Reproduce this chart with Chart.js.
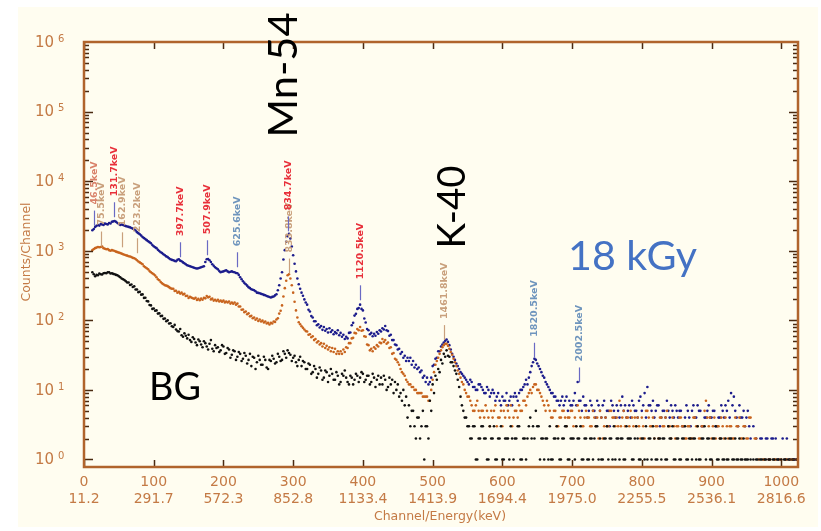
<!DOCTYPE html>
<html>
<head>
<meta charset="utf-8">
<script src="https://cdn.jsdelivr.net/npm/chart.js@4.4.0/dist/chart.umd.min.js"></script>
<style>
  html, body { margin: 0; padding: 0; background: #fff; }
  #wrap { position: relative; width: 821px; height: 531px; }
</style>
</head>
<body>
<div id="wrap"><canvas id="spectrum" width="821" height="531"></canvas></div>
<script>
// one value every 2 channels, channel 0 .. 1022 (32 values per row = 64 channels)
var STEP = 2;

var channelTicks = [0, 100, 200, 300, 400, 500, 600, 700, 800, 900, 1000];
var energyTicks = ['11.2', '291.7', '572.3', '852.8', '1133.4', '1413.9', '1694.4', '1975.0', '2255.5', '2536.1', '2816.6'];
var decades = [1, 10, 100, 1000, 10000, 100000, 1000000];

// 18 kGy sample (blue)
var dose18 = [
  null,null,null,null,null,null,1970,2050,2200,2280,2340,2300,2420,2380,2340,2450,2420,2390,2500,2460,2600,2640,2680,2600,2500,2420,2340,2380,2340,2300,2260,2230,
  2200,2170,2120,2080,2040,1950,1850,1790,1730,1650,1570,1520,1470,1420,1370,1330,1280,1210,1160,1120,1090,1030,990,950,925,890,860,830,810,780,755,740,
  730,715,705,740,755,720,705,680,660,640,618,610,600,590,580,570,560,555,560,570,580,590,600,690,755,760,730,690,640,610,580,560,
  540,510,490,500,505,515,524,505,490,500,505,495,490,480,475,450,415,390,365,345,330,315,300,290,280,275,270,262,250,248,245,240,
  237,232,229,224,220,216,213,217,220,228,237,270,319,400,490,750,1020,1350,1620,1750,1500,1150,860,650,505,400,330,285,250,225,200,180,
  168,142,134,115,110,97,97,85,88,79,83,73,80,71,75,67,77,68,72,63,68,65,72,61,66,58,62,54,58,55,66,67,
  85,92,117,124,146,150,168,146,139,106,93,75,72,63,66,59,64,60,68,64,72,69,77,74,83,72,70,60,62,52,52,45,
  44,38,39,33,35,29,31,26,29,26,29,23,26,21,23,20,21,18,19,15,16,13,15,12,13,15,22,23,28,29,36,36,
  42,45,48,51,53,49,44,38,33,30,27,24,22,20,18,17,16,15,14,13,12,14,13,11,11,10,10,12,12,11,10,9,
  9,11,10,8,9,10,9,7,8,9,7,6,8,7,7,9,6,7,8,6,8,9,8,7,9,10,10,11,12,14,12,15,
  18,22,25,28,27,24,22,20,18,16,15,13,12,11,10,9,9,8,8,7,7,6,7,8,6,7,8,5,7,6,6,7,
  9,6,13,7,7,5,8,6,6,4,5,7,6,5,5,4,7,6,5,4,6,7,4,5,5,3,7,6,5,4,6,5,
  4,6,8,5,6,4,5,6,4,7,6,5,5,4,7,8,5,6,9,4,11,6,6,5,7,4,5,6,6,3,4,5,
  5,4,7,5,4,6,5,4,6,5,4,5,5,3,3,4,6,5,4,3,5,6,4,4,6,5,5,3,3,4,4,5,
  6,4,4,5,5,3,3,4,4,6,5,4,6,5,7,4,9,6,8,5,4,3,6,4,4,5,3,4,5,3,2,null,
  3,null,2,null,null,2,2,null,null,2,2,1,null,2,2,null,2,null,1,null,null,2,null,1,2,null,1,null,null,1,1,null
];

// second irradiated sample (orange)
var doseLow = [
  null,null,null,null,null,null,1020,1060,1090,1110,1130,1120,1130,1150,1090,1070,1050,1060,1020,1000,1020,1010,990,970,955,940,925,910,890,875,860,850,
  835,825,810,790,780,760,730,700,680,660,640,600,580,560,540,510,490,475,460,440,415,390,376,355,340,330,319,315,310,300,290,285,
  285,265,266,250,256,242,250,236,240,224,226,210,218,212,208,204,210,196,204,194,205,198,210,207,224,214,218,200,205,192,198,190,
  198,186,192,185,192,181,186,180,186,174,180,173,180,168,174,158,158,142,143,131,134,122,126,114,116,107,110,102,106,98,103,96,
  99,93,96,90,92,87,92,90,96,95,103,107,125,137,164,220,290,370,444,460,400,320,250,185,139,110,94,88,82,78,74,70,
  69,62,63,57,59,52,54,48,50,45,47,42,46,40,43,38,41,36,40,35,39,33,36,33,36,33,38,35,41,40,47,47,
  55,56,66,65,75,72,80,71,72,59,58,45,44,37,39,36,41,39,44,42,48,47,54,49,52,46,48,40,41,33,34,28,
  27,25,23,20,18,17,16,14,13,12,12,11,11,10,10,9,9,9,9,8,8,8,8,7,7,10,14,18,23,26,29,33,
  37,41,44,46,46,43,39,35,32,28,25,22,19,17,15,13,12,10,9,8,8,7,6,5,5,6,7,5,4,5,5,4,
  6,5,4,3,5,4,5,6,3,4,4,5,3,5,4,6,5,4,6,3,4,5,5,4,6,5,5,7,7,6,8,9,
  10,9,11,12,12,10,10,9,8,7,6,5,7,6,5,4,4,5,5,3,3,4,4,5,5,4,3,4,4,5,5,3,
  4,3,6,5,4,3,3,4,5,4,4,3,3,5,4,3,4,2,5,4,2,3,4,3,3,5,5,4,4,3,4,3,
  7,3,4,5,3,4,4,3,5,4,3,4,3,4,3,2,4,3,2,5,5,4,3,3,4,2,3,3,2,4,4,3,
  3,4,5,3,3,2,4,3,2,3,3,4,4,3,3,2,2,3,3,2,2,4,4,3,3,2,2,3,3,5,7,4,
  3,4,2,3,4,2,3,3,2,4,3,2,4,3,2,3,3,2,2,4,3,3,4,2,2,3,3,2,2,4,4,null,
  null,2,2,null,1,null,null,1,1,null,null,1,1,null,null,1,1,null,null,1,1,null,null,1,1,null,null,1,1,null,null,1
];

// background (black)
var bg = [
  null,null,null,null,null,null,490,460,430,450,444,470,460,455,475,480,475,490,490,470,475,465,460,450,444,430,415,400,390,380,365,350,
  350,322,328,302,308,278,278,254,257,234,236,210,211,190,187,166,164,146,148,137,139,125,126,115,116,105,106,97,100,90,91,82,
  80,86,74,70,69,75,61,58,65,60,55,62,52,49,57,54,48,44,53,50,45,41,50,47,42,38,46,52,39,36,44,40,
  41,35,37,44,42,33,34,40,38,29,32,37,36,27,30,35,33,26,28,34,31,24,27,33,22,30,29,20,25,31,27,23,
  23,30,27,21,20,27,26,31,28,24,25,33,30,26,27,36,33,29,37,34,32,26,29,31,25,22,27,30,22,26,25,20,
  20,24,23,17,18,22,20,15,17,21,19,14,15,19,18,13,16,20,17,14,14,18,16,12,13,17,16,19,15,13,12,16,
  15,12,14,17,16,13,15,18,17,13,14,16,16,12,13,17,15,11,14,16,12,15,12,16,14,10,11,15,12,14,9,13,
  10,12,8,9,7,10,6,8,4,6,3,5,5,3,2,4,4,2,3,5,1,3,3,2,7,5,12,9,16,14,20,18,
  27,24,33,30,37,31,30,25,25,22,19,17,14,11,8,6,5,4,4,3,3,2,2,3,3,1,1,2,2,3,3,2,
  2,1,1,3,2,2,3,1,1,2,2,3,1,1,2,2,2,1,3,2,1,2,2,3,3,1,1,2,2,1,2,3,
  4,2,3,2,5,3,3,1,2,2,1,2,2,1,3,1,1,2,2,3,2,1,1,2,2,3,3,1,1,2,2,2,
  1,3,2,2,3,1,1,2,2,1,1,2,2,1,2,3,3,1,2,1,1,2,2,3,1,2,2,1,3,1,2,2,
  1,2,2,1,1,3,2,2,2,1,1,2,3,2,1,1,2,2,1,3,1,2,2,1,3,2,1,1,2,2,1,2,
  2,1,1,3,2,2,3,1,1,2,2,1,1,2,2,3,1,1,2,2,1,2,2,1,3,1,1,2,2,3,1,2,
  2,1,1,2,2,3,1,1,2,2,1,1,2,1,1,2,2,1,1,2,1,1,2,1,1,2,1,1,1,null,1,null,
  1,null,1,1,null,1,1,null,1,1,null,1,1,null,1,1,null,1,1,null,1,null,1,1,null,1,1,null,1,1,null,1
];

// peak markers: text, channel, count at the bottom of the marker line
var RED = '#e8303a', TAN = '#c9a07c', STEEL = '#6f95bd', VIOLET = '#6a6ac4';
var peaks = [
  { text: '46.5keV', ch: 15, at: 2300, color: '#d9826a', line: VIOLET },
  { text: '75.5keV', ch: 25, at: 1150, color: TAN, line: TAN },
  { text: '131.7keV', ch: 43, at: 3030, color: RED, line: VIOLET },
  { text: '162.9keV', ch: 54, at: 1120, color: TAN, line: TAN },
  { text: '223.2keV', ch: 76, at: 920, color: TAN, line: TAN },
  { text: '397.7keV', ch: 138, at: 806, color: RED, line: VIOLET },
  { text: '507.9keV', ch: 177, at: 861, color: RED, line: VIOLET },
  { text: '625.6keV', ch: 219, at: 579, color: STEEL, line: VIOLET },
  { text: '833.8keV', ch: 294, at: 470, color: TAN, line: TAN },
  { text: '834.7keV', ch: 293, at: 1900, color: RED, line: VIOLET },
  { text: '1120.5keV', ch: 395.5, at: 194, color: RED, line: VIOLET },
  { text: '1461.8keV', ch: 517, at: 52, color: TAN, line: TAN },
  { text: '1820.5keV', ch: 645, at: 29, color: STEEL, line: VIOLET },
  { text: '2002.5keV', ch: 710, at: 12.8, color: STEEL, line: VIOLET }
];

function toPoints(arr) {
  var pts = [];
  arr.forEach(function (v, i) {
    if (v !== null) pts.push({ x: i * STEP, y: v });
  });
  return pts;
}

var AXIS_TEXT = '#c47a45';

function fitSize(ctx, text, family, width) {
  ctx.font = '100px ' + family;
  return 100 * width / ctx.measureText(text).width;
}

var framePlugin = {
  id: 'frame',
  beforeDraw: function (chart) {
    var ctx = chart.ctx;
    ctx.save();
    ctx.fillStyle = '#ffffff';
    ctx.fillRect(0, 0, chart.width, chart.height);
    ctx.fillStyle = '#fffdf0';
    ctx.fillRect(18, 7, 800, 520);
    ctx.restore();
  },
  afterDatasetsDraw: function (chart) {
    var ctx = chart.ctx, a = chart.chartArea;
    var xs = chart.scales.x, ys = chart.scales.y;
    ctx.save();

    // inward ticks
    ctx.strokeStyle = '#4a2a10';
    ctx.lineWidth = 1.5;
    ctx.beginPath();
    channelTicks.forEach(function (c) {
      var px = Math.round(xs.getPixelForValue(c)) + 0.5;
      ctx.moveTo(px, a.bottom); ctx.lineTo(px, a.bottom - 7);
      ctx.moveTo(px, a.top); ctx.lineTo(px, a.top + 7);
    });
    for (var k = 0; k < 6; k++) {
      for (var m = 1; m < 10; m++) {
        var py = Math.round(ys.getPixelForValue(m * Math.pow(10, k))) + 0.5;
        var len = m === 1 ? 9 : 5;
        ctx.moveTo(a.left, py); ctx.lineTo(a.left + len, py);
        ctx.moveTo(a.right, py); ctx.lineTo(a.right - len, py);
      }
    }
    ctx.stroke();

    // frame
    ctx.strokeStyle = '#b0642c';
    ctx.lineWidth = 2.5;
    ctx.strokeRect(a.left, a.top, a.right - a.left, a.bottom - a.top);

    // y tick labels 10^n
    ctx.fillStyle = AXIS_TEXT;
    ctx.textBaseline = 'middle';
    decades.forEach(function (v, i) {
      var py = ys.getPixelForValue(v);
      ctx.font = '15px "DejaVu Sans"';
      ctx.textAlign = 'right';
      ctx.fillText('10', 54, py + 1);
      ctx.font = '10px "DejaVu Sans"';
      ctx.textAlign = 'left';
      ctx.fillText(String(i), 58, py - 3);
    });

    // axis titles
    ctx.font = '12.5px "DejaVu Sans"';
    ctx.textAlign = 'center';
    ctx.fillText('Channel/Energy(keV)', 440, 517);
    ctx.save();
    ctx.translate(27, 252);
    ctx.rotate(-Math.PI / 2);
    ctx.fillText('Counts/Channel', 0, 0);
    ctx.restore();

    // peak markers
    peaks.forEach(function (p) {
      var px = Math.round(xs.getPixelForValue(p.ch)) + 0.5;
      var bottom = ys.getPixelForValue(p.at);
      ctx.strokeStyle = p.line;
      ctx.lineWidth = 1.2;
      ctx.beginPath();
      ctx.moveTo(px, bottom); ctx.lineTo(px, bottom - 15);
      ctx.stroke();
      ctx.save();
      ctx.translate(px, bottom - 21);
      ctx.rotate(-Math.PI / 2);
      ctx.font = 'bold 9.5px "DejaVu Sans"';
      ctx.fillStyle = p.color;
      ctx.textAlign = 'left';
      ctx.textBaseline = 'middle';
      ctx.fillText(p.text, 0, 0);
      ctx.restore();
    });
    ctx.restore();
  },
  afterDraw: function (chart) {
    var ctx = chart.ctx;
    var fam = 'Lato, "Open Sans", sans-serif';
    ctx.save();
    ctx.fillStyle = '#000';
    ctx.textBaseline = 'alphabetic';

    // rotated nuclide labels
    [['Mn-54', 297, 75, 125], ['K-40', 465, 207, 83]].forEach(function (t) {
      var size = fitSize(ctx, t[0], fam, t[3]);
      ctx.save();
      ctx.translate(t[1], t[2]);
      ctx.rotate(-Math.PI / 2);
      ctx.font = size + 'px ' + fam;
      ctx.textAlign = 'center';
      ctx.fillText(t[0], 0, 0);
      ctx.restore();
    });

    var s = fitSize(ctx, 'BG', fam, 52);
    ctx.font = s + 'px ' + fam;
    ctx.textAlign = 'left';
    ctx.fillText('BG', 149, 400);

    s = fitSize(ctx, '18 kGy', fam, 129);
    ctx.font = s + 'px ' + fam;
    ctx.fillStyle = '#4472c4';
    ctx.fillText('18 kGy', 568, 270);
    ctx.restore();
  }
};

new Chart(document.getElementById('spectrum'), {
  type: 'scatter',
  data: {
    datasets: [
      { label: 'BG', data: toPoints(bg), backgroundColor: '#111111', order: 1 },
      { label: 'sample', data: toPoints(doseLow), backgroundColor: '#c8641e', order: 2 },
      { label: '18 kGy', data: toPoints(dose18), backgroundColor: '#1c1c8c', order: 3 }
    ]
  },
  options: {
    responsive: false,
    animation: false,
    events: [],
    layout: { padding: { top: 42, right: 23, bottom: 0, left: 0 } },
    elements: { point: { radius: 1.3, borderWidth: 0, hoverRadius: 1.3 } },
    plugins: { legend: { display: false }, tooltip: { enabled: false } },
    scales: {
      x: {
        type: 'linear',
        min: 0,
        max: 1024,
        grid: { display: false, drawTicks: false },
        border: { display: false },
        afterBuildTicks: function (scale) {
          scale.ticks = channelTicks.map(function (c) { return { value: c }; });
        },
        afterFit: function (scale) { scale.height = 64; },
        ticks: {
          padding: 7,
          maxRotation: 0,
          autoSkip: false,
          color: AXIS_TEXT,
          font: { family: 'DejaVu Sans', size: 14, lineHeight: 1.2 },
          callback: function (v) {
            var i = channelTicks.indexOf(v);
            return [String(v), energyTicks[i]];
          }
        }
      },
      y: {
        type: 'logarithmic',
        min: 0.78,
        max: 1000000,
        grid: { display: false, drawTicks: false },
        border: { display: false },
        afterBuildTicks: function (scale) {
          scale.ticks = decades.map(function (v) { return { value: v }; });
        },
        afterFit: function (scale) { scale.width = 84; },
        ticks: { display: false }
      }
    }
  },
  plugins: [framePlugin]
});
</script>
</body>
</html>
